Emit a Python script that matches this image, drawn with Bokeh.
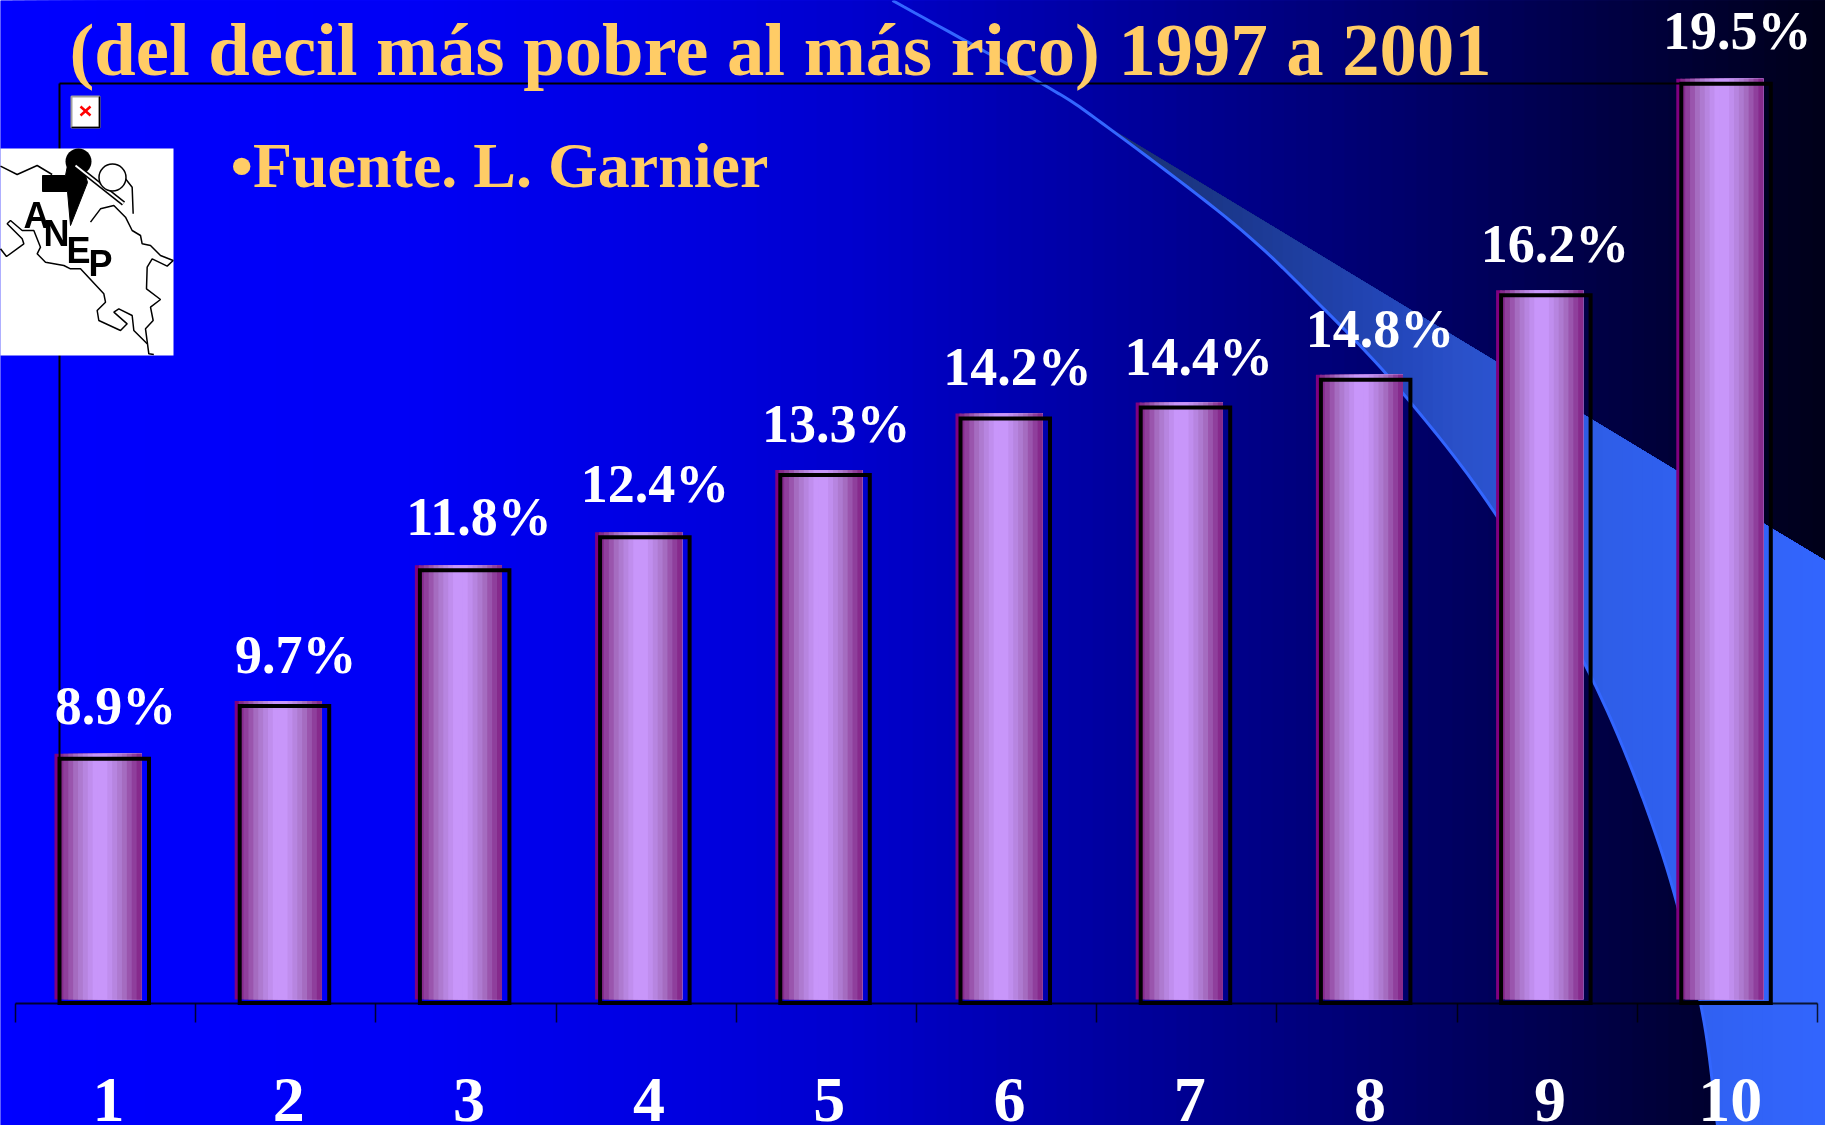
from bokeh.plotting import figure
from bokeh.models import Range1d, FixedTicker, ColumnDataSource
from bokeh.core.properties import value
from bokeh.embed import file_html
from bokeh.resources import INLINE
import numpy as np

# ---------- data ----------
deciles = [1, 2, 3, 4, 5, 6, 7, 8, 9, 10]
shares = [8.87, 9.70, 11.84, 12.36, 13.34, 14.23, 14.40, 14.84, 16.17, 19.50]
title_text = "(del decil más pobre al más rico) 1997 a 2001"
source_text = "•Fuente. L. Garnier"
logo_letters = ["A", "N", "E", "P"]

# ---------- style ----------
W, H = 1825, 1125
PX_PER_CAT = 180.2
PX_PER_UNIT = 63.5
FIRST_CENTER = 108.0
BASE_PX = 1002.5
GOLD = "#FFCC66"
SERIF = value("Liberation Serif")
BASELINE_SHIFT = 0.345  # em, the renderer sets text this far below the requested line
STRIPS = ["#862a8c", "#8f3f9c", "#9a55ad", "#a56cc0", "#ae7ad0", "#b785e0", "#c08eee", "#c896fa",
          "#c896fa", "#c896fa", "#c08eee", "#b785e0", "#ae7ad0", "#a56cc0", "#9a55ad", "#8f3f9c", "#862a8c"]
label_dx = [7, 7, 10, 6, 7, 8, 9, 10, 5, 7]
label_gap = [32.5, 31, 33, 33.5, 31, 31.5, 30, 31, 31.5, 33]

x0 = 1 - FIRST_CENTER / PX_PER_CAT
y0 = 5 - (H - BASE_PX) / PX_PER_UNIT
p = figure(width=W, height=H, output_backend="svg", toolbar_location=None, tools="",
           x_range=Range1d(x0, x0 + W / PX_PER_CAT),
           y_range=Range1d(y0, y0 + H / PX_PER_UNIT),
           min_border=0, min_border_left=0, min_border_right=0, min_border_top=0, min_border_bottom=0,
           outline_line_color=None, background_fill_color="#0000FF", border_fill_color="#0000FF",
           styles={"position": "fixed", "left": "0", "top": "0"})
p.grid.visible = False
p.extra_x_ranges["px"] = Range1d(0, W)
p.extra_y_ranges["px"] = Range1d(H, 0)
PX = dict(x_range_name="px", y_range_name="px")

# ---------- background gradient ----------
stops_x = [0, 400, 700, 850, 1400, 1825]
stops_b = [255, 246, 222, 205, 107, 24]
edges = np.arange(0, W, 12)
p.quad(left=edges, right=W, top=0, bottom=H, line_color=None, level="image",
       fill_color=["#0000%02x" % int(b) for b in np.interp(edges, stops_x, stops_b)], **PX)


# ---------- swoosh ----------
def smooth(xs, ys, n=14):
    xs, ys = np.array(xs, float), np.array(ys, float)
    px_ = np.r_[2 * xs[0] - xs[1], xs, 2 * xs[-1] - xs[-2]]
    py_ = np.r_[2 * ys[0] - ys[1], ys, 2 * ys[-1] - ys[-2]]
    ox, oy = [], []
    for i in range(1, len(px_) - 2):
        for t in np.linspace(0, 1, n, endpoint=False):
            for out, q in ((ox, px_), (oy, py_)):
                out.append(0.5 * (2 * q[i] + (q[i + 1] - q[i - 1]) * t
                                  + (2 * q[i - 1] - 5 * q[i] + 4 * q[i + 1] - q[i + 2]) * t ** 2
                                  + (3 * q[i] - q[i - 1] - 3 * q[i + 1] + q[i + 2]) * t ** 3))
    ox.append(xs[-1]); oy.append(ys[-1])
    return np.array(ox), np.array(oy)


curve_x, curve_y = smooth([892, 1041, 1102, 1233, 1315, 1400, 1494, 1590, 1659, 1700, 1717],
                          [0, 83, 123, 223, 300, 390, 512, 675, 845, 1003, 1125])
band = np.arange(1102, 1825, 10)
cols_x = [1102, 1233, 1400, 1450, 1600, 1825]
r = np.interp(band, cols_x, [0x1a, 0x1c, 0x24, 0x2a, 0x2f, 0x33])
g = np.interp(band, cols_x, [0x30, 0x39, 0x48, 0x50, 0x5e, 0x66])
b = np.interp(band, cols_x, [0x70, 0x90, 0xbd, 0xc8, 0xe8, 0xff])
xs_list, ys_list = [], []
for start in band:
    keep = curve_x > start
    yb = np.interp(start, curve_x, curve_y)
    yt = 123 + 0.605 * (start - 1102)
    xs_list.append([float(start), W, W] + [float(v) for v in curve_x[keep][::-1]] + [float(start)])
    ys_list.append([float(yt), 123 + 0.605 * (W - 1102), H] + [float(v) for v in curve_y[keep][::-1]] + [float(yb)])
    if start > 1717:
        xs_list[-1] = [float(start), W, W, float(start)]
        ys_list[-1] = [float(yt), 123 + 0.605 * (W - 1102), H, H]
p.patches(xs_list, ys_list, line_color=None, level="image",
          fill_color=["#%02x%02x%02x" % (int(a), int(c), int(d)) for a, c, d in zip(r, g, b)], **PX)
p.line(curve_x.tolist(), curve_y.tolist(), line_color="#3366FF", line_width=3, level="image", **PX)

# ---------- bars ----------
ux = 1 / PX_PER_CAT
uy = 1 / PX_PER_UNIT
sw = 83 / len(STRIPS)
L, R, T, B, C = [], [], [], [], []
for d, v in zip(deciles, shares):
    L.append(d - 54 * ux); R.append(d - 48 * ux); T.append(v + 3.5 * uy); B.append(5 + 3.5 * uy); C.append("#800080")
    for k, col in enumerate(STRIPS):
        L.append(d + (-50 + k * sw) * ux)
        R.append(d + 33 * ux)
        T.append(v + 3.5 * uy); B.append(5 + 3.5 * uy); C.append(col)
p.quad(left=L, right=R, top=T, bottom=B, fill_color=C, line_color=None)
d_arr = np.array(deciles, dtype=float)
v_arr = np.array(shares)
p.quad(left=d_arr - 49 * ux, right=d_arr + 40.5 * ux, top=v_arr - 1.5 * uy, bottom=5, fill_color=None,
       line_color="black", line_width=4, line_join="miter", level="annotation")

# ---------- axes ----------
xa = p.xaxis[0]
xa.fixed_location = 5
xa.ticker = FixedTicker(ticks=deciles, minor_ticks=[0.484 + k for k in range(11)])
xa.bounds = (0.484, 10.485)
xa.axis_line_color = "black"; xa.axis_line_width = 2; xa.axis_line_alpha = 0.8
xa.major_tick_line_color = None
xa.major_tick_in = 0; xa.major_tick_out = 0
xa.minor_tick_line_color = "black"; xa.minor_tick_line_width = 1.5; xa.minor_tick_line_alpha = 0.8
xa.minor_tick_in = 0; xa.minor_tick_out = 19
xa.major_label_standoff = 57
xa.major_label_text_font = "Liberation Serif"
xa.major_label_text_font_style = "bold"
xa.major_label_text_font_size = "64px"
xa.major_label_text_color = "white"

ya = p.yaxis[0]
ya.fixed_location = x0 + 59 / PX_PER_CAT
ya.ticker = FixedTicker(ticks=[])
ya.bounds = (5, 5 + (BASE_PX - 83) / PX_PER_UNIT)
ya.axis_line_color = "black"; ya.axis_line_width = 2
ya.major_tick_line_color = None; ya.minor_tick_line_color = None
ya.major_label_text_color = None

p.line([59, 1770], [83, 83], line_color="black", line_width=2, level="guide", **PX)

# ---------- value labels ----------
LABEL_SIZE = 54
src = ColumnDataSource(dict(x=deciles, y=shares, t=[f"{v:.1f}%" for v in shares], dx=label_dx,
                            dy=[-g - BASELINE_SHIFT * LABEL_SIZE for g in label_gap]))
p.text("x", "y", text="t", source=src, x_offset="dx", y_offset="dy", text_color="white", text_align="center",
       text_baseline="alphabetic", text_font=SERIF, text_font_style="bold", text_font_size=f"{LABEL_SIZE}px",
       level="overlay")

# ---------- titles ----------
p.text([69], [75 - BASELINE_SHIFT * 74.6], text=[title_text], text_color=GOLD, text_font=SERIF,
       text_font_style="bold", text_font_size="74.6px", text_baseline="alphabetic", level="overlay", **PX)
p.text([230], [187 - BASELINE_SHIFT * 64], text=[source_text], text_color=GOLD, text_font=SERIF,
       text_font_style="bold", text_font_size="64px", text_baseline="alphabetic", level="overlay", **PX)

# ---------- broken-image icon ----------
p.quad(left=[71], right=[99], top=[96], bottom=[127], fill_color="white", line_color="#a0a0a0", line_width=2,
       level="overlay", **PX)
p.line([71, 99, 99], [127, 127, 96], line_color="black", line_width=1.5, level="overlay", **PX)
p.multi_line([[80, 90], [80, 90]], [[106, 115], [115, 106]], line_color="red", line_width=2.5, level="overlay", **PX)

# ---------- logo ----------
p.quad(left=[0], right=[173], top=[148], bottom=[355], fill_color="white", line_color=None, level="overlay", **PX)
coast = [
    [(0, 497), (50, 522), (110, 495), (155, 522)],
    [(270, 665), (300, 625), (340, 615), (375, 650), (395, 690), (420, 705), (425, 730), (450, 735), (480, 765),
     (518, 780), (500, 797), (455, 775), (440, 800), (438, 865), (480, 897), (450, 920), (458, 960), (435, 985),
     (445, 1060), (460, 1062)],
    [(0, 745), (18, 768), (70, 730), (65, 715), (20, 670), (30, 660), (65, 690), (100, 690), (120, 740), (110, 760),
     (135, 785), (190, 795), (210, 805), (240, 805), (310, 880), (315, 905), (290, 930), (295, 960), (360, 990),
     (380, 970), (340, 935), (355, 925), (395, 945), (400, 990), (440, 1030)],
    [(375, 535), (395, 560), (398, 640)],
]
p.multi_line([[q[0] / 3 for q in c] for c in coast], [[q[1] / 3 for q in c] for c in coast], line_color="black",
             line_width=1.5, level="overlay", **PX)
p.patch([42, 65, 68, 78, 87, 70, 67, 42], [175, 175, 160, 150, 182, 225, 191, 191], fill_color="black",
        line_color="black", level="overlay", **PX)
p.scatter([78], [161], size=26, fill_color="black", line_color=None, level="overlay", **PX)
p.line([75, 123], [165, 203], line_color="black", line_width=5, level="overlay", **PX)
p.line([75, 123], [165, 203], line_color="white", line_width=2, level="overlay", **PX)
p.scatter([112], [177], size=27, fill_color="white", line_color="black", line_width=1.5, level="overlay", **PX)
LOGO_SIZE = 36
p.text([36, 56, 78, 100], [227 - BASELINE_SHIFT * LOGO_SIZE, 245 - BASELINE_SHIFT * LOGO_SIZE,
                           262 - BASELINE_SHIFT * LOGO_SIZE, 275 - BASELINE_SHIFT * LOGO_SIZE],
       text=logo_letters, text_color="black", text_align="center", text_baseline="alphabetic",
       text_font=value("Liberation Sans"), text_font_style="bold", text_font_size=f"{LOGO_SIZE}px",
       level="overlay", **PX)

open("out.html", "w").write(file_html(p, INLINE))
